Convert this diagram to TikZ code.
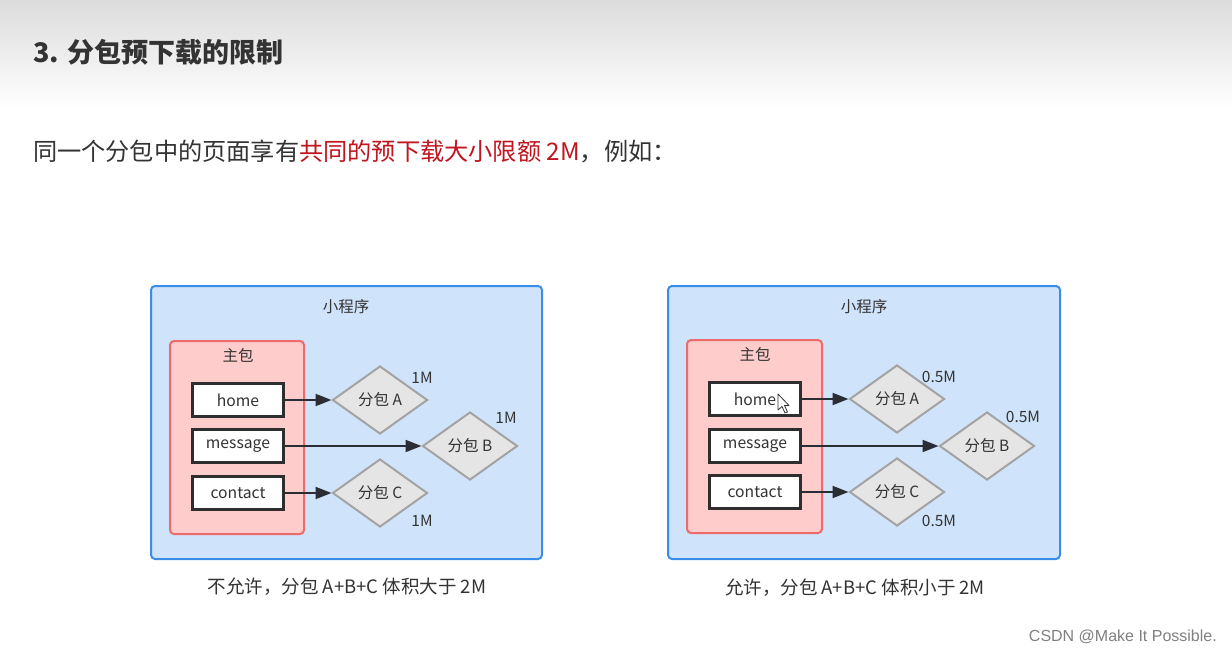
\documentclass[tikz,border=0pt]{standalone}
\usepackage{fontspec}
\setmainfont{Noto Sans CJK SC}
\newfontfamily\wmfont{Liberation Sans}
\usetikzlibrary{shapes.geometric,arrows.meta}
\definecolor{txt}{HTML}{333333}
\definecolor{redtxt}{HTML}{C0141E}
\definecolor{bluefill}{HTML}{CFE3FA}
\definecolor{blueline}{HTML}{3A8EEA}
\definecolor{pinkfill}{HTML}{FFCCCC}
\definecolor{pinkline}{HTML}{EE6B6B}
\definecolor{dgray}{HTML}{E5E5E5}
\definecolor{dline}{HTML}{A3A3A3}
\definecolor{arrowc}{HTML}{2A2D33}
\tikzset{
  outerbox/.style={draw=blueline, fill=bluefill, line width=2pt, rounded corners=4pt},
  pinkbox/.style={draw=pinkline, fill=pinkfill, line width=2pt, rounded corners=4pt},
  pagebox/.style={draw=txt!90!black, fill=white, line width=2.6pt, minimum width=91pt, minimum height=33pt, inner sep=0pt, font=\fontsize{15.7}{18}\selectfont, text=txt},
  subpkg/.style={diamond, draw=dline, fill=dgray, line width=2pt, aspect=1.4, minimum width=95pt, minimum height=68pt, inner sep=0pt, font=\fontsize{15.5}{18}\selectfont, text=txt},
  lbl/.style={font=\fontsize{15.5}{18}\selectfont, text=txt, inner sep=0pt},
  conn/.style={draw=arrowc, line width=2pt, -{Triangle[length=16pt,width=12pt]}},
  capt/.style={font=\fontsize{18.5}{22}\selectfont, text=txt, inner sep=0pt}
}
\begin{document}
\begin{tikzpicture}[x=1pt,y=-1pt]
\useasboundingbox (0,0) rectangle (1232,655);
\fill[white] (0,0) rectangle (1232,655);
\shade[top color=black!14, bottom color=white] (0,0) rectangle (1232,108);
% title
\node[anchor=west, inner sep=0pt, text=txt, font=\fontsize{27}{32}\selectfont\bfseries] (title) at (33,52) {3. 分包预下载的限制};
\node[anchor=west, inner sep=0pt, text=txt, font=\fontsize{24.2}{28}\selectfont] (intro) at (33,152) {同一个分包中的页面享有\textcolor{redtxt}{共同的预下载大小限额 2M}，例如：};

% ===== left panel =====
\draw[outerbox] (151,286) rectangle (542,559);
\node[lbl] (lapp) at (346,307) {小程序};
\draw[pinkbox] (170,341) rectangle (304,534);
\node[lbl] (lmain) at (238,355) {主包};
\node[pagebox] (lhome) at (238,400) {home};
\node[pagebox] (lmsg) at (238,446) {message};
\node[pagebox] (lcon) at (238,493) {contact};
\node[subpkg] (lA) at (380,400) {分包 A};
\node[subpkg] (lB) at (470,446) {分包 B};
\node[subpkg] (lC) at (380,493) {分包 C};
\node[lbl] (lAs) at (422,378) {1M};
\node[lbl] (lBs) at (506,418) {1M};
\node[lbl] (lCs) at (422,521) {1M};
\draw[conn] (lhome) -- (lA);
\draw[conn] (lmsg) -- (lB);
\draw[conn] (lcon) -- (lC);
\node[capt] (lcap) at (347,587) {不允许，分包 A+B+C 体积大于 2M};

% ===== right panel =====
\draw[outerbox] (668,286) rectangle (1060,559);
\node[lbl] (rapp) at (864,307) {小程序};
\draw[pinkbox] (687,340) rectangle (822,533);
\node[lbl] (rmain) at (755,354) {主包};
\node[pagebox] (rhome) at (755,399) {home};
\node[pagebox] (rmsg) at (755,446) {message};
\node[pagebox] (rcon) at (755,492) {contact};
\node[subpkg] (rA) at (897,399) {分包 A};
\node[subpkg] (rB) at (987,446) {分包 B};
\node[subpkg] (rC) at (897,492) {分包 C};
\node[lbl] (rAs) at (939,377) {0.5M};
\node[lbl] (rBs) at (1023,417) {0.5M};
\node[lbl] (rCs) at (939,521) {0.5M};
\draw[conn] (rhome) -- (rA);
\draw[conn] (rmsg) -- (rB);
\draw[conn] (rcon) -- (rC);
\node[capt] (rcap) at (855,588) {允许，分包 A+B+C 体积小于 2M};
% cursor
\draw[fill=white, draw=txt, line width=0.8pt, line join=round] (778,394) -- (778,410) -- (782,406.5) -- (785,413) -- (787.5,412) -- (784.5,405.5) -- (789,405.5) -- cycle;

% watermark
\node[anchor=east, inner sep=0pt, text=black!50, font=\wmfont\fontsize{16}{19}\selectfont] (wm) at (1217,637) {CSDN @Make It Possible.};
\end{tikzpicture}
\end{document}
